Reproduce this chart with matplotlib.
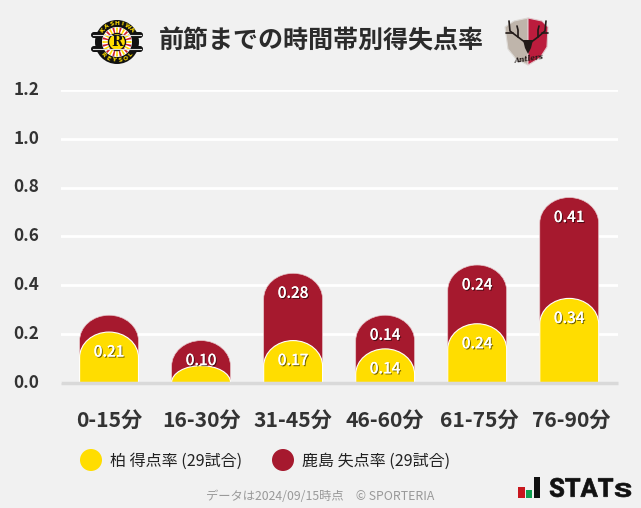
import numpy as np
import matplotlib
matplotlib.use("Agg")
import matplotlib.pyplot as plt
import matplotlib.patheffects as pe
from matplotlib.font_manager import FontProperties
from matplotlib.path import Path
from matplotlib.patches import PathPatch, Circle, Polygon, Rectangle, Wedge, FancyBboxPatch
from matplotlib.textpath import TextPath
from matplotlib.transforms import Affine2D

plt.rcParams['font.family'] = ['Noto Sans CJK JP', 'DejaVu Sans']

BG = "#f1f1f1"
YELLOW = "#ffdd00"
RED = "#a6192e"

periods = ["0-15分", "16-30分", "31-45分", "46-60分", "61-75分", "76-90分"]
kashiwa_scored = [0.207, 0.069, 0.172, 0.138, 0.241, 0.345]
kashima_conceded = [0.069, 0.103, 0.276, 0.138, 0.241, 0.414]
# labels under this value are left off, like the original
LABEL_MIN = 0.10
y_ticks = [0.0, 0.2, 0.4, 0.6, 0.8, 1.0, 1.2]

title = "前節までの時間帯別得失点率"
legend_labels = ["柏 得点率 (29試合)", "鹿島 失点率 (29試合)"]
footer = "データは2024/09/15時点　© SPORTERIA"

BAR_W = 0.64
ARC_H = 0.105


def round_bar(x, top, width=BAR_W):
    # bar from zero with an elliptical top
    ry = min(top, ARC_H)
    rx = width / 2
    k = 0.5523
    verts = [(x - rx, 0), (x - rx, top - ry),
             (x - rx, top - ry + k * ry), (x - k * rx, top), (x, top),
             (x + k * rx, top), (x + rx, top - ry + k * ry), (x + rx, top - ry),
             (x + rx, 0), (x - rx, 0)]
    codes = [Path.MOVETO, Path.LINETO,
             Path.CURVE4, Path.CURVE4, Path.CURVE4,
             Path.CURVE4, Path.CURVE4, Path.CURVE4,
             Path.LINETO, Path.CLOSEPOLY]
    return Path(verts, codes)


def fitted_text(ax, s, x0, x1, y_top, y_bot):
    # squeeze a glyph string into a pixel box (y axis is inverted on the overlay)
    tp = TextPath((0, 0), s, size=10, prop=FontProperties(family="Roboto", weight="bold"))
    bb = tp.get_extents()
    tr = (Affine2D().translate(-bb.x0, -bb.y0)
          .scale((x1 - x0) / bb.width, -(y_bot - y_top) / bb.height)
          .translate(x0, y_bot))
    ax.add_patch(PathPatch(tr.transform_path(tp), fc="#111111", ec="#111111", lw=0.5))


fig = plt.figure(figsize=(6.41, 5.08), dpi=100, facecolor=BG)
W, H = 641, 508

# main plot, placed in pixels
left, right, top_px, bottom_px = 61, 618, 90, 382.5
ax = fig.add_axes([left / W, 1 - bottom_px / H, (right - left) / W, (bottom_px - top_px) / H])
ax.set_facecolor(BG)
ax.set_xlim(-0.522, 5.53)
ax.set_ylim(0, 1.2)
for s in ax.spines.values():
    s.set_visible(False)
ax.set_yticks(y_ticks)
ax.set_yticklabels([f"{v:.1f}" for v in y_ticks], fontsize=12.4, fontweight="bold", color="#333333")
ax.set_xticks(range(len(periods)))
ax.set_xticklabels(periods, fontsize=15.2, fontweight="bold", color="#333333")
ax.tick_params(axis="both", length=0)
ax.tick_params(axis="x", pad=20)
ax.tick_params(axis="y", pad=0)
for lab in ax.get_yticklabels():
    lab.set_ha("left")
    lab.set_x(-0.085)
    lab.set_transform(lab.get_transform() + Affine2D().translate(0, 2))
for lab in ax.get_xticklabels()[4:]:
    lab.set_transform(lab.get_transform() + Affine2D().translate(2, 0))
ax.yaxis.grid(True, color="white", lw=2)
ax.set_axisbelow(True)

shadow = [pe.withSimplePatchShadow(offset=(0.8, -0.8), shadow_rgbFace="black", alpha=0.55), pe.Normal()]

for i, (a, b) in enumerate(zip(kashiwa_scored, kashima_conceded)):
    total = a + b
    ax.add_patch(PathPatch(round_bar(i, total), fc=RED, ec="#e8c8cc", lw=0.5, zorder=3))
    ax.add_patch(PathPatch(round_bar(i, a), fc=YELLOW, ec="white", lw=0.8, zorder=4))
    for val, y in ((a, a), (b, total)):
        if val >= LABEL_MIN:
            ax.annotate(f"{val:.2f}", xy=(i, y), xytext=(0, -20), textcoords="offset pixels",
                        ha="center", va="center", color="white", fontsize=11, fontweight="medium",
                        path_effects=shadow, zorder=6)
ax.axhline(0, color="#d9d9d9", lw=2.5, zorder=5, clip_on=False, solid_capstyle="butt")

# overlay in pixel coordinates for header, legend and footer
ov = fig.add_axes([0, 0, 1, 1], zorder=10)
ov.set_xlim(0, W)
ov.set_ylim(H, 0)
ov.axis("off")

ov.text(321, 41, title, ha="center", va="center", fontsize=18, fontweight="bold", color="#2b2b2b")

# legend
for cx, tx, col, lab in zip((91, 283), (110, 302), (YELLOW, RED), legend_labels):
    ov.add_patch(Circle((cx, 460), 11, fc=col, ec="none"))
    ov.text(tx, 461, lab, ha="left", va="center", fontsize=11.55, color="#222222")
ov.text(320.5, 497, footer, ha="center", va="center", fontsize=8.85, color="#999999")

# STATs logo
ov.add_patch(Rectangle((518, 487), 7, 10.5, fc="#c8171e", ec="none"))
ov.add_patch(Rectangle((526, 490), 6, 7.5, fc="#0fa050", ec="none"))
ov.add_patch(Rectangle((534, 477), 6, 20.5, fc="#111111", ec="none"))
fitted_text(ov, "STAT", 550, 613, 478, 497)
fitted_text(ov, "S", 615, 631, 483, 497)

# Kashiwa crest
cx, cy = 117, 42
for yy in (35, 49):
    ov.add_patch(FancyBboxPatch((91, yy - 3), 52, 6, boxstyle="round,pad=0,rounding_size=3", fc="#111111", ec="none"))
    ov.plot([93, 141], [yy, yy], color="#dddddd", lw=0.8)
ov.add_patch(Circle((cx, cy), 22, fc="#111111", ec="none"))
ov.add_patch(Circle((cx, cy), 15, fc="white", ec="none"))
for n, ang in enumerate(np.arange(0, 360, 15)):
    ov.add_patch(Wedge((cx, cy), 14.5, ang - 4, ang + 4, fc="#d0202c" if n % 2 else YELLOW, ec="none"))
ov.add_patch(Circle((cx, cy), 8.5, fc=YELLOW, ec="#111111", lw=1))
ov.text(cx, cy, "R", ha="center", va="center", fontsize=10, fontweight="bold", color="#111111", family="DejaVu Serif")
for word, a0, a1 in (("KASHIWA", 140, 40), ("REYSOL", 222, 318)):
    for ch, ang in zip(word, np.linspace(a0, a1, len(word))):
        r = 18.5
        px = cx + r * np.cos(np.radians(ang))
        py = cy - r * np.sin(np.radians(ang))
        rot = ang - 90 if a0 > a1 else ang + 90
        ov.text(px, py, ch, ha="center", va="center", fontsize=4.2, fontweight="bold",
                color=YELLOW, rotation=rot, family="DejaVu Sans")

# Kashima crest
shield_l = [(505, 27), (514, 21), (528, 18), (528, 65), (516, 59), (508, 49)]
shield_r = [(528, 18), (542, 21), (548, 27), (547, 47), (540, 58), (528, 65)]
ov.add_patch(Polygon(shield_l, fc="#bfb5ab", ec="#dddad6", lw=0.8))
ov.add_patch(Polygon(shield_r, fc="#bc1c3d", ec="#e0c8cc", lw=0.8))
antlers = [
    [(526, 43), (518, 37), (510, 31), (509, 21)],
    [(518, 37), (518, 30), (517, 26)],
    [(513, 33), (506, 33)],
    [(530, 43), (538, 37), (545, 31), (546, 21)],
    [(538, 37), (538, 30), (539, 26)],
    [(542, 33), (548, 33)],
]
for pts in antlers:
    xs, ys = zip(*pts)
    ov.plot(xs, ys, color="#221a18", lw=1.2, solid_capstyle="round")
ov.add_patch(Polygon([(523, 40), (533, 40), (531, 48), (528, 54), (525, 48)], fc="#221a18", ec="none"))
ov.text(529, 59, "Antlers", ha="center", va="center", fontsize=5.2, style="italic", fontweight="bold",
        color="#221a18", rotation=8, family="DejaVu Serif")

fig.savefig("out.png", dpi=100, facecolor=BG)
